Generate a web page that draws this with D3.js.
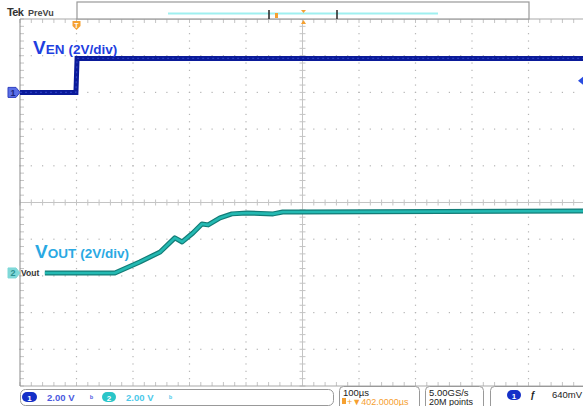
<!DOCTYPE html>
<html>
<head>
<meta charset="utf-8">
<script src="https://cdn.jsdelivr.net/npm/d3@7"></script>
<style>
body { margin: 0; background: #fff; }
svg { display: block; font-family: "Liberation Sans", Arial, sans-serif; }
</style>
</head>
<body>
<svg width="583" height="406"></svg>
<script>

// time in µs relative to screen centre (100 µs/div), volts at 2 V/div
var venTime = [-500, -401, -399, 500];
var venVolts = [0, 0, 1.85, 1.85];

var voutTime = [-456, -332, -288, -252, -226, -213, -194, -178, -167, -146, -125, -98, -52, -35, -4, 500];
var voutVolts = [0, 0, 0.6, 1.14, 1.91, 1.69, 2.18, 2.67, 2.62, 3.0, 3.22, 3.27, 3.22, 3.32, 3.32, 3.38];

var ch1Offset = 3, ch2Offset = -1.92, voltsPerDiv = 2;
var triggerLevel = 0.64;
var statusLabels = ["2.00 V", "2.00 V", "100µs", "402.0000µs", "5.00GS/s", "20M points", "640mV"];

var svg = d3.select("svg");

var x = d3.scaleLinear().domain([-500, 500]).range([20, 585]);
var y = d3.scaleLinear().domain([-5, 5]).range([386, 19]);
var divX = 56.5, divY = 36.7;

function yv(v, off) { return y(v / voltsPerDiv + off); }

// graticule
var grid = svg.append("g").attr("fill", "#b4b4b4");
d3.range(-4, 5).forEach(function(d) {
  if (d === 0) return;
  var gx = x(d * 100);
  d3.range(19, 386, divY / 5).forEach(function(py) {
    grid.append("rect").attr("x", gx - 0.6).attr("y", py - 0.6).attr("width", 1.2).attr("height", 1.2);
  });
});
d3.range(-4, 5).forEach(function(d) {
  if (d === 0) return;
  var gy = y(d);
  d3.range(20, 585, divX / 5).forEach(function(px) {
    grid.append("rect").attr("x", px - 0.6).attr("y", gy - 0.6).attr("width", 1.2).attr("height", 1.2);
  });
});

var axes = svg.append("g").attr("stroke", "#c4c4c4").attr("stroke-width", 1);
axes.append("line").attr("x1", 20).attr("x2", 585).attr("y1", y(0)).attr("y2", y(0));
axes.append("line").attr("x1", x(0)).attr("x2", x(0)).attr("y1", 19).attr("y2", 386);
d3.range(20, 585, divX / 5).forEach(function(px) {
  axes.append("line").attr("x1", px).attr("x2", px).attr("y1", y(0) - 3).attr("y2", y(0) + 3);
  axes.append("line").attr("x1", px).attr("x2", px).attr("y1", 19).attr("y2", 23);
  axes.append("line").attr("x1", px).attr("x2", px).attr("y1", 382).attr("y2", 386);
});
d3.range(19, 387, divY / 5).forEach(function(py) {
  axes.append("line").attr("x1", x(0) - 3).attr("x2", x(0) + 3).attr("y1", py).attr("y2", py);
  axes.append("line").attr("x1", 20).attr("x2", 24).attr("y1", py).attr("y2", py);
});
axes.append("line").attr("x1", 20).attr("x2", 585).attr("y1", 19).attr("y2", 19).attr("stroke", "#a8a8a8");
axes.append("line").attr("x1", 20).attr("x2", 585).attr("y1", 386).attr("y2", 386).attr("stroke", "#a8a8a8");
axes.append("line").attr("x1", 20).attr("x2", 20).attr("y1", 19).attr("y2", 386).attr("stroke", "#8a8a8a");

// traces
var venLine = d3.line()
    .x(function(d, i) { return x(venTime[i]); })
    .y(function(d) { return yv(d, ch1Offset); });
var voutLine = d3.line()
    .x(function(d, i) { return x(voutTime[i]); })
    .y(function(d) { return yv(d, ch2Offset); });

svg.append("path").attr("d", venLine(venVolts))
    .attr("fill", "none").attr("stroke", "#0a1a99").attr("stroke-width", 5);
svg.append("path").attr("d", venLine(venVolts))
    .attr("fill", "none").attr("stroke", "#2a3dc0").attr("stroke-width", 1.2)
    .attr("stroke-dasharray", "2,3");

svg.append("path").attr("d", voutLine(voutVolts))
    .attr("fill", "none").attr("stroke", "#127c77").attr("stroke-width", 5)
    .attr("stroke-linejoin", "round");
svg.append("path").attr("d", voutLine(voutVolts))
    .attr("fill", "none").attr("stroke", "#23b9b2").attr("stroke-width", 2.6)
    .attr("stroke-linejoin", "round");

// trace labels
var ven = svg.append("text").attr("x", 33).attr("y", 54)
    .attr("fill", "#1f3fe0").attr("font-weight", "bold");
ven.append("tspan").attr("font-size", 19).text("V");
ven.append("tspan").attr("font-size", 13.5).text("EN");
ven.append("tspan").attr("font-size", 13.5).attr("dx", 4).text("(2V/div)");

var vout = svg.append("text").attr("x", 35).attr("y", 258)
    .attr("fill", "#2aa9e3").attr("font-weight", "bold");
vout.append("tspan").attr("font-size", 19).text("V");
vout.append("tspan").attr("font-size", 13.5).text("OUT");
vout.append("tspan").attr("font-size", 13.5).attr("dx", 4).text("(2V/div)");

// channel ground markers
function marker(cy, fill, stroke, label, textFill) {
  var g = svg.append("g");
  g.append("path")
      .attr("d", "M8," + (cy - 5) + "H16L20," + cy + "L16," + (cy + 5) + "H8Z")
      .attr("fill", fill).attr("stroke", stroke).attr("stroke-width", 1);
  g.append("text").attr("x", 13).attr("y", cy + 3.5).attr("text-anchor", "middle")
      .attr("font-size", 9).attr("font-weight", "bold").attr("fill", textFill).text(label);
}
marker(yv(0, ch1Offset), "#5a6fe6", "#3040c0", "1", "#1a237e");
marker(yv(0, ch2Offset), "#7fd8d8", "#7fd8d8", "2", "#2a8f8f");
svg.append("text").attr("x", 21).attr("y", yv(0, ch2Offset) + 3)
    .attr("font-size", 8.5).attr("font-weight", "bold").attr("fill", "#333").text("Vout");

// trigger level marker on right
var ty = yv(triggerLevel, ch1Offset);
svg.append("path").attr("d", "M578," + ty + "L583," + (ty - 4) + "V" + (ty + 4) + "Z").attr("fill", "#2a4de0");

// trigger position marker
svg.append("path").attr("d", "M" + (x(-400) - 4) + ",21H" + (x(-400) + 4) + "V26L" + x(-400) + ",30L" + (x(-400) - 4) + ",26Z")
    .attr("fill", "#f5a030");
svg.append("text").attr("x", x(-400)).attr("y", 27.5).attr("text-anchor", "middle")
    .attr("font-size", 7).attr("font-weight", "bold").attr("fill", "#fff").text("T");

// top bar
svg.append("text").attr("x", 7).attr("y", 16).attr("font-size", 11).attr("font-weight", "bold")
    .attr("fill", "#333").attr("letter-spacing", -0.6).text("Tek");
svg.append("text").attr("x", 28).attr("y", 16).attr("font-size", 9).attr("font-weight", "bold")
    .attr("fill", "#444").text("PreVu");
svg.append("rect").attr("x", 77).attr("y", 2).attr("width", 452).attr("height", 17)
    .attr("fill", "#fff").attr("stroke", "#999").attr("stroke-width", 1.2);
svg.append("line").attr("x1", 168).attr("x2", 438).attr("y1", 13.5).attr("y2", 13.5)
    .attr("stroke", "#9ff0f0").attr("stroke-width", 2);
[269, 337].forEach(function(bx) {
  svg.append("line").attr("x1", bx).attr("x2", bx).attr("y1", 10).attr("y2", 19)
      .attr("stroke", "#222").attr("stroke-width", 1.5);
});
svg.append("rect").attr("x", 275).attr("y", 13).attr("width", 3).attr("height", 5).attr("fill", "#f5a030");
svg.append("path").attr("d", "M301,10H306L303.5,13Z").attr("fill", "#f5a030");
svg.append("path").attr("d", "M301,24H306L303.5,20Z").attr("fill", "#f5a030");

// bottom status bar
var sb = svg.append("g").attr("font-size", 9.5).attr("font-weight", "bold");
sb.append("rect").attr("x", 20.5).attr("y", 389.5).attr("width", 313).attr("height", 16)
    .attr("rx", 5).attr("fill", "#fff").attr("stroke", "#999");
sb.append("rect").attr("x", 22).attr("y", 392).attr("width", 15).attr("height", 10).attr("rx", 5).attr("fill", "#1530c8");
sb.append("text").attr("x", 29.5).attr("y", 400.5).attr("text-anchor", "middle").attr("fill", "#fff").attr("font-size", 8).text("1");
sb.append("text").attr("x", 47).attr("y", 401).attr("fill", "#4a5ae0").text(statusLabels[0]);
sb.append("text").attr("x", 90).attr("y", 401).attr("fill", "#4a5ae0").attr("font-size", 8).text("ᵇ");
sb.append("rect").attr("x", 102).attr("y", 392).attr("width", 14).attr("height", 10).attr("rx", 5).attr("fill", "#2ac5c8");
sb.append("text").attr("x", 109).attr("y", 400.5).attr("text-anchor", "middle").attr("fill", "#fff").attr("font-size", 8).text("2");
sb.append("text").attr("x", 126).attr("y", 401).attr("fill", "#4cc9ea").text(statusLabels[1]);
sb.append("text").attr("x", 169).attr("y", 401).attr("fill", "#4cc9ea").attr("font-size", 8).text("ᵇ");

sb.append("rect").attr("x", 339.5).attr("y", 386.5).attr("width", 80).attr("height", 24)
    .attr("rx", 4).attr("fill", "#fff").attr("stroke", "#999");
sb.append("text").attr("x", 343).attr("y", 395.5).attr("fill", "#222").attr("font-weight", "normal").text(statusLabels[2]);
sb.append("rect").attr("x", 342).attr("y", 398).attr("width", 4).attr("height", 6).attr("fill", "#f5a030");
sb.append("text").attr("x", 347).attr("y", 405).attr("fill", "#f5a030").attr("font-weight", "normal").attr("font-size", 9).text("+▼" + statusLabels[3]);

sb.append("rect").attr("x", 425.5).attr("y", 386.5).attr("width", 58).attr("height", 24)
    .attr("rx", 4).attr("fill", "#fff").attr("stroke", "#999");
sb.append("text").attr("x", 429).attr("y", 395.5).attr("fill", "#222").attr("font-weight", "normal").text(statusLabels[4]);
sb.append("text").attr("x", 429).attr("y", 405).attr("fill", "#222").attr("font-weight", "normal").attr("font-size", 9).text(statusLabels[5]);

sb.append("rect").attr("x", 490.5).attr("y", 386.5).attr("width", 100).attr("height", 24)
    .attr("rx", 4).attr("fill", "#fff").attr("stroke", "#999");
sb.append("rect").attr("x", 507).attr("y", 390).attr("width", 14).attr("height", 10).attr("rx", 5).attr("fill", "#1530c8");
sb.append("text").attr("x", 514).attr("y", 398.5).attr("text-anchor", "middle").attr("fill", "#fff").attr("font-size", 8).text("1");
sb.append("text").attr("x", 530).attr("y", 398).attr("fill", "#222").attr("font-style", "italic").text("ƒ");
sb.append("text").attr("x", 552).attr("y", 398).attr("fill", "#222").attr("font-weight", "normal").text(statusLabels[6]);

</script>
</body>
</html>
